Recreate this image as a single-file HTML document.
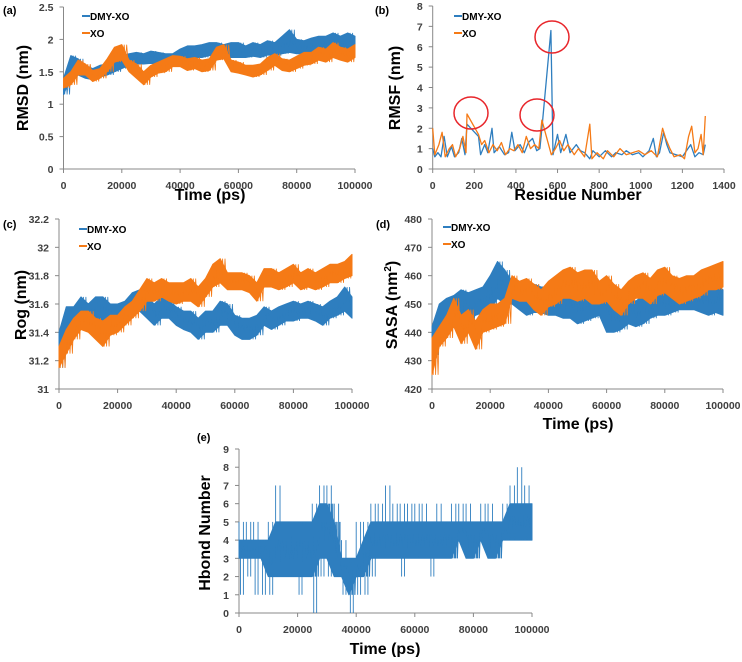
<!DOCTYPE html>
<html><head><meta charset="utf-8"><style>
body{margin:0;background:#fff;width:742px;height:657px;overflow:hidden}
text{font-family:"Liberation Sans",sans-serif;}
.tk{font-size:10.5px;font-weight:bold;fill:#404040}
.tt{font-size:16px;font-weight:bold;fill:#000}
.lg{font-size:10px;font-weight:bold;fill:#000}
.pl{font-size:11px;font-weight:bold;fill:#000}
</style></head><body>
<svg id="s" width="742" height="657" xmlns="http://www.w3.org/2000/svg"></svg>
<script>
const times=[0,2500,5000,7500,10000,12500,15000,17500,20000,22500,25000,27500,30000,32500,35000,37500,40000,42500,45000,47500,50000,52500,55000,57500,60000,62500,65000,67500,70000,72500,75000,77500,80000,82500,85000,87500,90000,92500,95000,97500,100000];
const rmsdBlueLow=[1.15,1.4,1.45,1.4,1.38,1.42,1.45,1.5,1.55,1.6,1.62,1.62,1.63,1.62,1.6,1.6,1.68,1.7,1.72,1.72,1.75,1.75,1.72,1.72,1.72,1.72,1.74,1.72,1.76,1.75,1.78,1.8,1.78,1.78,1.8,1.8,1.82,1.82,1.82,1.85,1.9];
const rmsdBlueHigh=[1.4,1.75,1.7,1.6,1.55,1.6,1.62,1.68,1.75,1.78,1.8,1.78,1.82,1.8,1.78,1.78,1.85,1.9,1.9,1.92,1.95,1.95,1.92,1.95,1.95,1.9,1.95,1.92,1.98,1.95,2.05,2.15,2.0,1.98,2.02,2.05,2.05,2.1,2.05,2.1,2.05];
const rmsdOrangeLow=[1.25,1.3,1.45,1.45,1.35,1.4,1.5,1.65,1.68,1.5,1.4,1.3,1.42,1.48,1.5,1.58,1.58,1.52,1.55,1.5,1.52,1.68,1.7,1.5,1.48,1.45,1.42,1.45,1.52,1.6,1.52,1.5,1.55,1.6,1.62,1.68,1.65,1.72,1.68,1.65,1.72];
const rmsdOrangeHigh=[1.4,1.5,1.68,1.62,1.52,1.55,1.7,1.88,1.92,1.68,1.62,1.5,1.6,1.65,1.7,1.75,1.74,1.7,1.72,1.68,1.7,1.88,1.92,1.68,1.65,1.6,1.6,1.62,1.72,1.78,1.7,1.68,1.74,1.8,1.8,1.88,1.85,1.95,1.88,1.85,1.92];
const rogBlueLow=[31.15,31.38,31.4,31.45,31.48,31.5,31.48,31.45,31.48,31.5,31.52,31.55,31.5,31.45,31.5,31.5,31.45,31.42,31.4,31.35,31.4,31.4,31.45,31.45,31.38,31.35,31.35,31.38,31.45,31.42,31.45,31.48,31.48,31.5,31.5,31.48,31.45,31.5,31.52,31.55,31.5];
const rogBlueHigh=[31.4,31.58,31.58,31.65,31.6,31.65,31.65,31.6,31.6,31.62,31.68,31.7,31.65,31.6,31.65,31.62,31.58,31.55,31.55,31.5,31.55,31.55,31.62,31.6,31.52,31.5,31.5,31.52,31.58,31.55,31.58,31.6,31.62,31.6,31.62,31.6,31.58,31.62,31.65,31.72,31.65];
const rogOrangeLow=[31.15,31.25,31.35,31.42,31.4,31.35,31.3,31.38,31.4,31.45,31.5,31.55,31.62,31.62,31.65,31.62,31.6,31.62,31.62,31.58,31.65,31.72,31.75,31.7,31.7,31.7,31.68,31.62,31.72,31.72,31.7,31.72,31.75,31.7,31.72,31.7,31.72,31.75,31.75,31.78,31.8];
const rogOrangeHigh=[31.3,31.42,31.5,31.55,31.55,31.5,31.48,31.52,31.52,31.58,31.62,31.7,31.78,31.75,31.78,31.75,31.75,31.75,31.78,31.72,31.78,31.88,31.92,31.82,31.82,31.82,31.8,31.75,31.85,31.85,31.82,31.85,31.88,31.82,31.85,31.82,31.85,31.88,31.88,31.9,31.95];
const sasaBlueLow=[432,440,442,443,445,444,446,447,448,452,450,450,448,446,447,447,446,446,445,445,443,444,445,446,440,440,441,443,442,443,445,446,446,447,448,448,448,447,446,447,446];
const sasaBlueHigh=[442,450,452,453,455,454,455,456,460,465,462,458,457,456,457,456,456,455,455,454,454,455,455,455,452,451,452,453,451,453,454,455,455,455,456,456,456,455,455,457,455];
const sasaOrangeLow=[425,435,438,442,436,440,434,440,441,442,443,452,451,451,448,446,449,450,452,452,451,452,450,450,451,448,446,450,452,452,450,453,454,452,450,451,452,453,455,455,456];
const sasaOrangeHigh=[438,442,446,452,446,448,444,448,450,450,452,460,458,459,457,455,458,460,462,463,461,462,462,458,460,457,455,458,460,461,459,462,463,460,459,460,460,462,463,464,465];
const hbCoreLow=[3,3,3,3,2,2,2,2,2,2,2,3,3,2,2,1,2,2,3,3,3,3,3,3,3,3,3,3,3,3,4,3,3,4,3,3,4,4,4,4,4];
const hbCoreHigh=[4,4,4,4,4,5,5,5,5,5,5,6,6,5,3,3,3,4,5,5,5,5,5,5,5,5,5,5,5,5,5,5,5,5,5,5,5,6,6,6,6];
const hbMin=[1,2,1,1,1,2,2,2,1,2,0,2,2,2,1,0,1,1,2,3,3,3,2,3,3,3,2,3,3,3,4,3,3,4,3,3,4,4,4,4,4];
const hbMax=[5,5,5,4,5,7,5,5,5,5,6,7,7,6,4,3,5,5,6,6,7,6,6,6,6,6,5,6,5,6,6,6,5,6,6,5,6,7,8,7,6];
const rmsfBlueRes=[0,10,25,40,55,70,90,105,125,140,155,165,220,230,250,265,285,295,320,345,365,380,395,420,440,460,480,500,515,525,568,578,600,615,640,660,690,710,730,755,770,800,830,860,880,910,930,960,990,1010,1040,1060,1075,1090,1110,1125,1140,1170,1200,1220,1240,1260,1280,1300,1310];
const rmsfBlueVal=[1.0,0.6,0.8,0.6,1.6,0.6,1.1,0.6,0.8,1.5,0.7,2.2,1.6,0.7,1.2,0.8,2.0,0.8,1.1,0.7,0.8,1.8,0.9,1.2,0.8,1.3,1.5,0.9,1.0,2.0,6.8,0.7,1.7,0.8,1.7,0.8,1.2,0.9,0.8,0.5,0.9,0.6,0.9,0.6,0.8,0.7,0.9,0.7,0.8,0.6,0.9,1.5,0.6,0.8,1.8,1.2,0.8,0.7,0.6,0.9,1.2,0.6,0.8,0.7,1.2];
const rmsfOrangeRes=[0,10,30,45,60,80,95,110,130,145,160,165,220,235,250,270,290,310,330,350,370,390,410,430,450,470,490,510,525,570,590,610,630,650,680,700,730,755,765,790,820,840,870,900,930,960,990,1020,1050,1080,1105,1120,1140,1160,1190,1210,1230,1245,1260,1275,1290,1300,1310];
const rmsfOrangeVal=[2.0,0.7,1.2,1.8,0.6,1.0,1.2,0.6,1.0,1.6,0.8,2.7,1.7,1.2,1.4,0.8,1.2,0.9,1.3,0.7,1.0,0.9,1.2,0.8,1.6,1.0,1.2,1.0,2.4,0.7,1.0,1.4,0.9,1.2,0.7,1.0,0.6,2.2,0.5,0.8,0.5,0.9,0.6,1.0,0.7,0.8,0.9,0.7,0.9,0.6,2.0,1.5,1.0,0.6,0.7,0.5,1.6,2.1,0.8,1.0,1.7,0.7,2.6];
const timeTicks=[0,20000,40000,60000,80000,100000];
const resTicks=[0,200,400,600,800,1000,1200,1400];

const NS='http://www.w3.org/2000/svg',S=document.getElementById('s');
const BLUE='#2e7ebf',ORANGE='#f57a16';
function el(t,a,p){const e=document.createElementNS(NS,t);for(const k in a)e.setAttribute(k,a[k]);(p||S).appendChild(e);return e;}
function txt(x,y,s,cls,anchor,rot){const e=el('text',{x:x,y:y,class:cls,'text-anchor':anchor||'middle'});if(rot)e.setAttribute('transform','rotate(-90 '+x+' '+y+')');e.textContent=s;return e;}
function axes(c){
  const g=el('g',{});
  
  
  c.sx=v=>c.x0+(v-c.xmin)/(c.xmax-c.xmin)*(c.x1-c.x0);
  c.sy=v=>c.y0-(v-c.ymin)/(c.ymax-c.ymin)*(c.y0-c.y1);
  const ax=el('path',{d:'M'+c.x0+' '+c.y1+'V'+c.y0+'H'+c.x1,stroke:'#888',fill:'none','stroke-width':1},g);
  
  
  c.xt.forEach(v=>{const x=c.sx(v);el('line',{x1:x,x2:x,y1:c.y0,y2:c.y0+4,stroke:'#888'},g);
    const t=txt(x,c.y0+20,String(v),'tk');g.appendChild(t);});
  c.yt.forEach(v=>{const y=c.sy(v);el('line',{x1:c.x0-4,x2:c.x0,y1:y,y2:y,stroke:'#888'},g);
    const t=txt(c.x0-10,y+4,c.yfmt?c.yfmt(v):String(v),'tk','end');g.appendChild(t);});
  return g;
}
function band(c,xs,lo,hi,col,name,g){
  let d='M';xs.forEach((x,i)=>{d+=c.sx(x).toFixed(1)+' '+c.sy(hi[i]).toFixed(1)+' L';});
  for(let i=xs.length-1;i>=0;i--)d+=c.sx(xs[i]).toFixed(1)+' '+c.sy(lo[i]).toFixed(1)+(i?' L':'Z');
  const p=el('path',{d:d,fill:col,stroke:col,'stroke-width':1,'stroke-linejoin':'round'},g);
  
  
  let z='';xs.forEach((x,i)=>{const xa=c.sx(x),xb=i<xs.length-1?c.sx(xs[i+1]):xa;const n=6;
    for(let k=0;k<n;k++){const xx=xa+(xb-xa)*k/n;z+=(z?'L':'M')+xx.toFixed(1)+' '+c.sy(k%2?lo[i]:hi[i]).toFixed(1);}});
  el('path',{d:z,fill:'none',stroke:col,'stroke-width':0.8},g);
}
function line(c,xs,ys,col,name,g){
  const p=el('polyline',{points:xs.map((x,i)=>c.sx(x).toFixed(1)+','+c.sy(ys[i]).toFixed(1)).join(' '),fill:'none',stroke:col,'stroke-width':1.3,'stroke-linejoin':'round'},g);
  
  
}
function legend(x,y,g){
  [['DMY-XO',BLUE],['XO',ORANGE]].forEach((l,i)=>{const yy=y+i*17;
    el('line',{x1:x,x2:x+8,y1:yy,y2:yy,stroke:l[1],'stroke-width':2},g);
    const t=txt(x+8,yy+4,l[0],'lg','start');g.appendChild(t);});
}
// (a)
let a={name:'rmsd-chart',x0:63.5,x1:355,y0:169,y1:7,xmin:0,xmax:100000,ymin:0,ymax:2.5,xt:timeTicks,yt:[0,0.5,1,1.5,2,2.5]};
let ga=axes(a);
band(a,times,rmsdBlueLow,rmsdBlueHigh,BLUE,'rmsd-dmy-xo-series',ga);
band(a,times,rmsdOrangeLow,rmsdOrangeHigh,ORANGE,'rmsd-xo-series',ga);
legend(82,16,ga);
txt(3,14,'(a)','pl','start');
txt(210,200,'Time (ps)','tt');
txt(28,88,'RMSD (nm)','tt','middle',true);
// (b)
let b={name:'rmsf-chart',x0:432.7,x1:724,y0:169,y1:6,xmin:0,xmax:1400,ymin:0,ymax:8,xt:resTicks,yt:[0,1,2,3,4,5,6,7,8]};
let gb=axes(b);
line(b,rmsfBlueRes,rmsfBlueVal,BLUE,'rmsf-dmy-xo-series',gb);
line(b,rmsfOrangeRes,rmsfOrangeVal,ORANGE,'rmsf-xo-series',gb);
legend(454,16,gb);
[[471,113],[537,115],[552,37]].forEach(p=>{const e=el('ellipse',{cx:p[0],cy:p[1],rx:17,ry:16,fill:'none',stroke:'#e8262b','stroke-width':1.5},gb);});
txt(375,14,'(b)','pl','start');
txt(578,200,'Residue Number','tt');
txt(400,88,'RMSF (nm)','tt','middle',true);
// (c)
let c={name:'rog-chart',x0:59,x1:352,y0:389,y1:219,xmin:0,xmax:100000,ymin:31,ymax:32.2,xt:timeTicks,yt:[31,31.2,31.4,31.6,31.8,32,32.2],yfmt:v=>v.toFixed(v%1?1:0)};
let gc=axes(c);
band(c,times,rogBlueLow,rogBlueHigh,BLUE,'rog-dmy-xo-series',gc);
band(c,times,rogOrangeLow,rogOrangeHigh,ORANGE,'rog-xo-series',gc);
legend(79,229,gc);
txt(3,228,'(c)','pl','start');
txt(26,305,'Rog (nm)','tt','middle',true);
// (d)
let d={name:'sasa-chart',x0:432,x1:723,y0:389,y1:219,xmin:0,xmax:100000,ymin:420,ymax:480,xt:timeTicks,yt:[420,430,440,450,460,470,480]};
let gd=axes(d);
band(d,times,sasaBlueLow,sasaBlueHigh,BLUE,'sasa-dmy-xo-series',gd);
band(d,times,sasaOrangeLow,sasaOrangeHigh,ORANGE,'sasa-xo-series',gd);
legend(443,227,gd);
txt(376,228,'(d)','pl','start');
txt(578,429,'Time (ps)','tt');
const sy=el('text',{x:397,y:305,class:'tt','text-anchor':'middle',transform:'rotate(-90 397 305)'});
sy.innerHTML='SASA (nm<tspan font-size="10" dy="-6">2</tspan><tspan dy="6">)</tspan>';

// (e)
let e={name:'hbond-chart',x0:239,x1:532,y0:613,y1:449,xmin:0,xmax:100000,ymin:0,ymax:9,xt:timeTicks,yt:[0,1,2,3,4,5,6,7,8,9]};
let ge=axes(e);
times.forEach((t,i)=>{const x=e.sx(t);const n=5;const w=(e.sx(2500)-e.sx(0));
  for(let k=0;k<n;k++){const xx=Math.min(x+w*k/n,e.x1);el('line',{x1:xx,x2:xx,y1:e.sy(k%2?hbMin[i]:hbCoreLow[i]),y2:e.sy(k%3?hbCoreHigh[i]:hbMax[i]),stroke:BLUE,'stroke-width':0.9},ge);}
});
band(e,times,hbCoreLow,hbCoreHigh,BLUE,'hbond-series',ge);
txt(197,441,'(e)','pl','start');
txt(385,654,'Time (ps)','tt');
txt(210,533,'Hbond Number','tt','middle',true);
</script>
</body></html>
